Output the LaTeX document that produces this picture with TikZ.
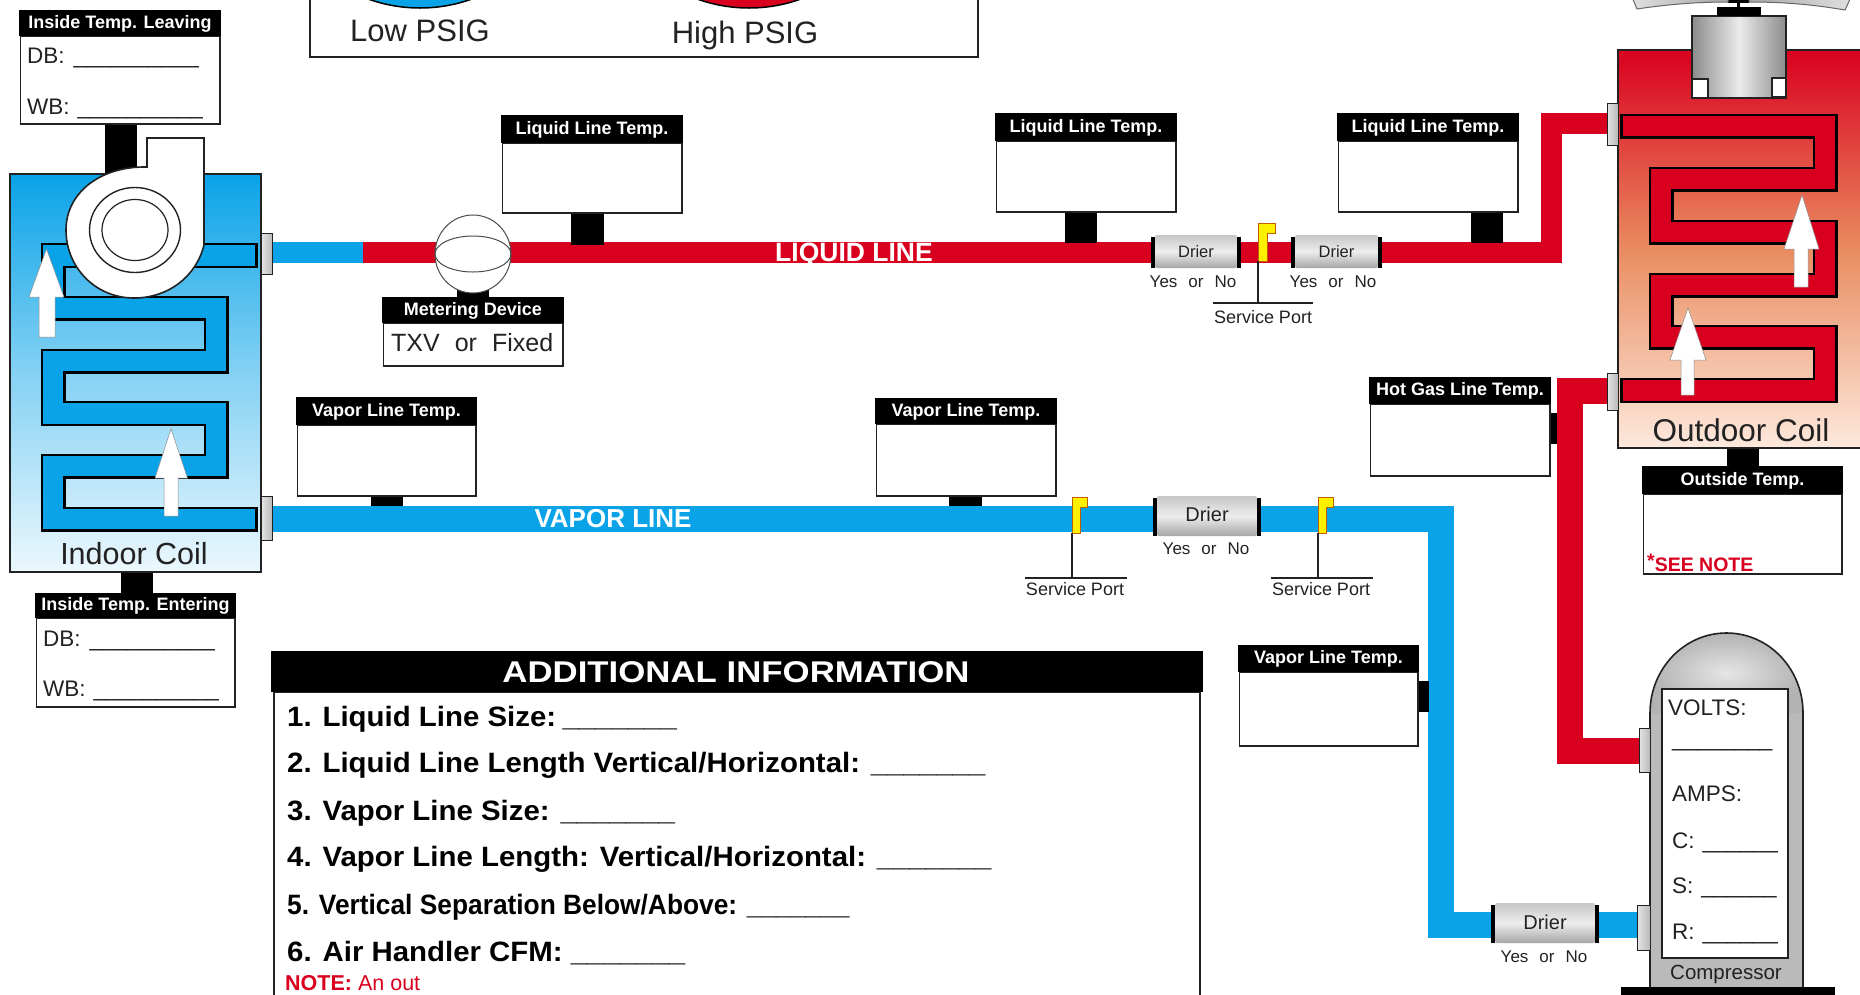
\documentclass[tikz,border=0pt]{standalone}
\usepackage{fontspec}
\setmainfont{Liberation Sans}
\usetikzlibrary{calc}
\definecolor{pred}{HTML}{D9001F}
\definecolor{pblue}{HTML}{0AA3E8}
\definecolor{ink}{HTML}{222222}
\definecolor{flagy}{HTML}{FFF000}
\definecolor{coilmid}{HTML}{E98C60}
\definecolor{coilend}{HTML}{FDE9DD}
\newcommand\fz[1]{\fontsize{#1}{#1}\selectfont}
\newcommand\us[1]{\foreach \i in {1,...,#1}{\_}}
\newcommand\yn{Yes\hspace{11pt}or\hspace{11pt}No}
\tikzset{
  lab/.style={font=\fz{22.5},text=ink,inner sep=0pt,anchor=mid west},
  ctr/.style={text=ink,inner sep=0pt,anchor=mid},
  hdr/.style={font=\fz{18}\bfseries,text=white,inner sep=0pt,anchor=mid},
  boxline/.style={draw=ink,line width=1.6pt,fill=white},
  tubeblack/.style={draw=black,line width=25pt,miter limit=10},
  tubecol/.style={line width=20.5pt,miter limit=10},
  pipe/.style={line width=#1,miter limit=10},
  fitv/.style={draw=ink,line width=1pt,left color=white!90!black,right color=black!28},
  drierbody/.style={top color=black!22,bottom color=black!35,middle color=black!7,rounded corners=2pt},
  aflow/.style={fill=white,draw=black!45,line width=.5pt},
  flagshape/.style={fill=flagy,draw=black!25!orange,line width=.6pt},
  thin line/.style={draw=ink,line width=1.3pt},
}
% name, xl, xr, top, mid, bottom, text
\newcommand\tbox[7]{%
  \draw[boxline] (#2+1.5,#5) rectangle (#3-1,#6);
  \fill[black] (#2,#4) rectangle (#3,#5);
  \node[hdr] (#1) at ({(#2+#3)/2},{(#4+#5)/2+2.5}) {#7};
}
% name, bodyl, bodyr, top, bottom, font size, text y
\newcommand\drier[7]{%
  \path[drierbody] (#2,#4) rectangle (#3,#5);
  \fill[black] (#2-4,#4+2) rectangle (#2,#5);
  \fill[black] (#3,#4+2) rectangle (#3+3.5,#5);
  \node[ctr,font=\fz{#6}] (#1) at ({(#2+#3)/2},#7) {Drier};
}
% name, left x, stem right x, flag right x, top, stem bottom
\newcommand\flagport[6]{%
  \draw[flagshape] (#2,#5) -- (#4,#5) -- (#4,#5+10) -- (#3,#5+10) -- (#3,#6) -- (#2,#6) -- cycle;
  \coordinate (#1) at (#2,#6);
}
\begin{document}
\begin{tikzpicture}[x=1pt,y=-1pt]
\useasboundingbox (0,0) rectangle (1860,994);
\clip (0,0) rectangle (1860,994);

%% ---------- gauge panel
\draw[boxline] (310,-5) rectangle (978,57);
\draw[draw=black,line width=1.5pt,fill=pblue] (420,-145) circle[radius=153];
\draw[draw=black,line width=1.5pt,fill=pred] (749,-145) circle[radius=153];
\node[ctr,font=\fz{31}] (low) at (420,39) {Low PSIG};
\node[ctr,font=\fz{31}] (high) at (745,41) {High PSIG};

%% ---------- coordinates for pipes
\coordinate (lqA) at (272,252.5);
\coordinate (lqB) at (363,252.5);
\coordinate (lqC) at (1551.5,252.5);
\coordinate (lqD) at (1551.5,123);
\coordinate (lqE) at (1607,123);
\coordinate (hgA) at (1607,390.5);
\coordinate (hgB) at (1570,390.5);
\coordinate (hgC) at (1570,750.5);
\coordinate (hgD) at (1639,750.5);
\coordinate (vpA) at (272,518.5);
\coordinate (vpB) at (1440.5,518.5);
\coordinate (vpC) at (1440.5,925);
\coordinate (vpD) at (1637,925);

%% ---------- pipes
\draw[pipe=21pt,pblue] (lqA) -- (lqB);
\draw[pipe=21pt,pred] (lqB) -- (lqC) -- (lqD) -- (lqE);
\draw[pipe=26pt,pred] (hgA) -- (hgB) -- (hgC) -- (hgD);
\draw[pipe=26pt,pblue] (vpA) -- (vpB) -- (vpC) -- (vpD);

%% ---------- sensor posts
\fill[black] (105,120) rectangle (137,175);
\fill[black] (121,570) rectangle (153,595);
\fill[black] (571,212) rectangle (603.5,245);
\fill[black] (1065,211) rectangle (1097,243);
\fill[black] (1471,211) rectangle (1503,243);
\fill[black] (457,290) rectangle (488.5,298);
\fill[black] (371,495) rectangle (403,506);
\fill[black] (949,495) rectangle (982,506);
\fill[black] (1549,413) rectangle (1557,444);
\fill[black] (1417,681) rectangle (1429,712);
\fill[black] (1727,446) rectangle (1759,467);

%% ---------- indoor coil
\path[draw=ink,line width=1.6pt,top color=pblue,bottom color=pblue!8!white,middle color=pblue!50!white] (10,174) rectangle (261,572);
\draw[tubeblack] (258,255.5) -- (53,255.5) -- (53,308) -- (216,308) -- (216,361) -- (53,361) -- (53,413.5) -- (216,413.5) -- (216,466) -- (53,466) -- (53,519) -- (258,519);
\draw[tubecol,pblue] (255,255.5) -- (53,255.5) -- (53,308) -- (216,308) -- (216,361) -- (53,361) -- (53,413.5) -- (216,413.5) -- (216,466) -- (53,466) -- (53,519) -- (255,519);
\node[ctr,font=\fz{30.5}] (indoor) at (134,562) {Indoor Coil};
% blower
\draw[draw=ink,line width=1.6pt,fill=white] (147,167) -- (147,138) -- (204,138) -- (204,245)
  .. controls (196,277) and (168,298) .. (134,298)
  .. controls (95,298) and (66,267) .. (66,230)
  .. controls (66,193) and (100,166) .. (147,167) -- cycle;
\draw[draw=ink,line width=1.4pt] (135,230) ellipse [x radius=45.5,y radius=42.5];
\draw[draw=ink,line width=1.2pt] (135,230) ellipse [x radius=33,y radius=30.5];
% air arrows
\draw[aflow] (46.5,249) -- (64,297) -- (55,297) -- (55,337) -- (39,337) -- (39,297) -- (29,297) -- cycle;
\draw[aflow] (171,429) -- (187.5,478) -- (178,478) -- (178,516) -- (164,516) -- (164,478) -- (155,478) -- cycle;
% fittings
\draw[fitv] (261,233) rectangle (272.5,274);
\draw[fitv] (261,496) rectangle (272.5,540);

%% ---------- inside temp boxes
\tbox{leave}{19}{221}{10}{36}{124}{Inside Temp. Leaving}
\node[lab] (leavedb) at (27,61) {DB:\hspace{9pt}\us{10}};
\node[lab] (leavewb) at (27,112) {WB:\hspace{8pt}\us{10}};
\tbox{enter}{35}{236}{593}{618}{707}{Inside Temp. Entering}
\node[lab] (enterdb) at (43,644) {DB:\hspace{9pt}\us{10}};
\node[lab] (enterwb) at (43,694) {WB:\hspace{8pt}\us{10}};

%% ---------- metering device
\draw[draw=black!70,line width=1pt,fill=white] (473,254) ellipse [x radius=38,y radius=39];
\draw[draw=black!70,line width=1pt] (473,254) ellipse [x radius=38,y radius=18];
\tbox{meter}{382}{564}{297}{323}{366}{Metering Device}
\node[lab,font=\fz{25}] (txv) at (391,349) {TXV\hspace{15pt}or\hspace{15pt}Fixed};

%% ---------- liquid line
\node[inner sep=0pt,anchor=mid,font=\fz{26.5}\bfseries,text=white] (liq) at (854,259) {LIQUID LINE};
\tbox{ll1}{501}{683}{115}{143}{213}{Liquid Line Temp.}
\tbox{ll2}{995}{1177}{113}{141}{212}{Liquid Line Temp.}
\tbox{ll3}{1337}{1519}{113}{141}{212}{Liquid Line Temp.}
\drier{dr1}{1155}{1237}{235}{268}{16.5}{255}
\node[ctr,font=\fz{17}] (yn1) at (1193,285) {\yn};
\drier{dr2}{1295}{1378}{235}{268}{16.5}{255}
\node[ctr,font=\fz{17}] (yn2) at (1333,285) {\yn};
\flagport{pt1}{1258}{1267}{1275}{223}{261}
\coordinate (pt1b) at (1258,303);
\draw[thin line] (pt1) -- (pt1b);
\coordinate (pt1l) at (1213,303); \coordinate (pt1r) at (1313,303);
\draw[thin line] (pt1l) -- (pt1r);
\node[ctr,font=\fz{18}] (sp1) at (1263,321) {Service Port};

%% ---------- vapor line
\node[inner sep=0pt,anchor=mid,font=\fz{26}\bfseries,text=white] (vap) at (613,525) {VAPOR LINE};
\tbox{vl1}{296}{477}{397}{425}{496}{Vapor Line Temp.}
\tbox{vl2}{875}{1057}{398}{424}{496}{Vapor Line Temp.}
\tbox{vl3}{1238}{1419}{645}{672}{746}{Vapor Line Temp.}
\drier{dr3}{1157}{1257}{496}{536}{20}{519}
\node[ctr,font=\fz{17}] (yn3) at (1206,552) {\yn};
\drier{dr4}{1495}{1595}{903}{943}{20}{927}
\node[ctr,font=\fz{17}] (yn4) at (1544,960) {\yn};
\flagport{pt2}{1072}{1080}{1087}{497}{533}
\coordinate (pt2b) at (1072,578);
\draw[thin line] (pt2) -- (pt2b);
\coordinate (pt2l) at (1025,578); \coordinate (pt2r) at (1127,578);
\draw[thin line] (pt2l) -- (pt2r);
\node[ctr,font=\fz{18}] (sp2) at (1075,593) {Service Port};
\flagport{pt3}{1318}{1326}{1333}{497}{533}
\coordinate (pt3b) at (1318,578);
\draw[thin line] (pt3) -- (pt3b);
\coordinate (pt3l) at (1271,578); \coordinate (pt3r) at (1373,578);
\draw[thin line] (pt3l) -- (pt3r);
\node[ctr,font=\fz{18}] (sp3) at (1321,593) {Service Port};

%% ---------- hot gas box
\tbox{hg}{1369}{1551}{377}{404}{476}{Hot Gas Line Temp.}

%% ---------- outdoor coil
\path[draw=ink,line width=1.6pt,top color=pred,bottom color=coilend,middle color=coilmid] (1618,50) rectangle (1870,448);
\draw[tubeblack] (1620,126) -- (1825,126) -- (1825,179) -- (1661,179) -- (1661,232) -- (1825,232) -- (1825,285) -- (1661,285) -- (1661,337) -- (1825,337) -- (1825,390.5) -- (1620,390.5);
\draw[tubecol,pred] (1623,126) -- (1825,126) -- (1825,179) -- (1661,179) -- (1661,232) -- (1825,232) -- (1825,285) -- (1661,285) -- (1661,337) -- (1825,337) -- (1825,390.5) -- (1623,390.5);
\node[ctr,font=\fz{31.5}] (outdoor) at (1741,439) {Outdoor Coil};
\draw[aflow] (1802,195) -- (1819,249) -- (1808,249) -- (1808,287) -- (1794,287) -- (1794,249) -- (1784,249) -- cycle;
\draw[aflow] (1688,308) -- (1706,360) -- (1694,360) -- (1694,395) -- (1681,395) -- (1681,360) -- (1670,360) -- cycle;
\draw[fitv] (1607,103) rectangle (1618,145);
\draw[fitv] (1607,373) rectangle (1618,410);
% motor and fan
\path[draw=ink,line width=1.6pt,left color=black!45,right color=black!45,middle color=black!8] (1692,16) rectangle (1786,98);
\draw[draw=ink,line width=1.6pt,fill=white] (1692,79) rectangle (1708,98);
\draw[draw=ink,line width=1.6pt,fill=white] (1772,78) rectangle (1786,97);
\fill[black] (1717,7) rectangle (1761,16);
\fill[black] (1736.5,2) rectangle (1739.5,7);
\fill[black] (1728,-2) rectangle (1749,3);
\path[draw=black!60,line width=1pt,left color=black!12,right color=black!35] (1632,-3) -- (1637,9) .. controls (1670,4) and (1700,2) .. (1728,2) -- (1728,-3) -- cycle;
\path[draw=black!60,line width=1pt,left color=black!35,right color=black!12] (1851,-3) -- (1845,10) .. controls (1810,4) and (1780,2) .. (1749,2) -- (1749,-3) -- cycle;

%% ---------- outside temp
\tbox{ot}{1642}{1843}{466}{494}{574}{Outside Temp.}
\node[inner sep=0pt,anchor=mid west,font=\fz{19.5}\bfseries,text=pred] (seenote) at (1647,569) {\raisebox{4pt}{*}SEE NOTE};

%% ---------- compressor
\fill[black!27] (1650,700) rectangle (1803,990);
\path[inner color=black!10,outer color=black!30] (1650,713) .. controls (1650,669) and (1684,633) .. (1726.5,633) .. controls (1769,633) and (1803,669) .. (1803,713) -- cycle;
\draw[draw=ink,line width=1.6pt] (1650,990) -- (1650,713) .. controls (1650,669) and (1684,633) .. (1726.5,633) .. controls (1769,633) and (1803,669) .. (1803,713) -- (1803,990);
\draw[boxline] (1662,689) rectangle (1788,958);
\fill[black] (1621,987) rectangle (1835,1000);
\node[lab] (volts) at (1668,713) {VOLTS:};
\node[lab] (vline) at (1672,744) {\us{8}};
\node[lab] (amps) at (1672,799) {AMPS:};
\node[lab] (ampc) at (1672,846) {C:\hspace{8pt}\us{6}};
\node[lab] (amps2) at (1672,891) {S:\hspace{8pt}\us{6}};
\node[lab] (ampr) at (1672,937) {R:\hspace{8pt}\us{6}};
\node[ctr,font=\fz{20.5}] (comp) at (1726,977) {Compressor};
\draw[fitv] (1639,728) rectangle (1650,772);
\draw[fitv] (1637,905) rectangle (1650,950);

%% ---------- additional information
\draw[boxline] (274,692) rectangle (1200,1005);
\fill[black] (271,651) rectangle (1203,692);
\node[inner sep=0pt,anchor=mid,text=white,font=\fz{30}\bfseries] (addh) at (736,680) {\scalebox{1.16}[1]{ADDITIONAL INFORMATION}};
\tikzset{inf/.style={inner sep=0pt,anchor=mid west,text=black,font=\fz{28}\bfseries}}
\node[inf] (i1) at (287,724) {\scalebox{1.05}[1]{1. Liquid Line Size:\hspace{6pt}\us{7}}};
\node[inf] (i2) at (287,770) {\scalebox{1.05}[1]{2. Liquid Line Length Vertical/Horizontal: \us{7}}};
\node[inf] (i3) at (287,818) {\scalebox{1.05}[1]{3. Vapor Line Size: \us{7}}};
\node[inf] (i4) at (287,864) {\scalebox{1.05}[1]{4. Vapor Line Length: Vertical/Horizontal: \us{7}}};
\node[inf] (i5) at (287,912) {\scalebox{.94}[1]{5. Vertical Separation Below/Above: \us{7}}};
\node[inf] (i6) at (287,959) {\scalebox{1.05}[1]{6. Air Handler CFM: \us{7}}};
\node[inner sep=0pt,anchor=mid west,text=pred,font=\fz{21.5}] (note) at (285,988) {\textbf{NOTE:} An out};
\end{tikzpicture}
\end{document}
